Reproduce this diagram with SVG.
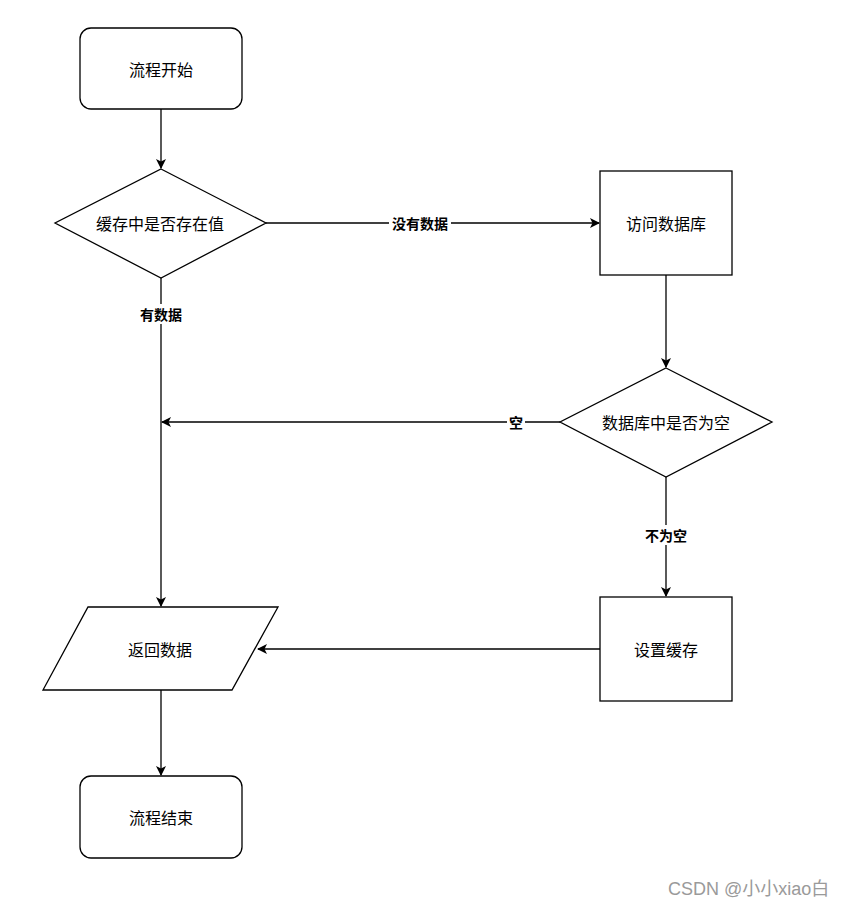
<svg xmlns="http://www.w3.org/2000/svg" width="848" height="908" viewBox="0 0 848 908">
<style>
.n{fill:#fff;stroke:#000;stroke-width:1.3}
.t{font-family:"Noto Sans CJK SC","Noto Sans",sans-serif;font-size:16px;fill:#000;text-anchor:middle;dominant-baseline:central}
.l{font-family:"Noto Sans CJK SC","Noto Sans",sans-serif;font-size:14px;font-weight:bold;fill:#000;text-anchor:middle;dominant-baseline:central}
.e{fill:none;stroke:#000;stroke-width:1.3}
.lb{fill:#fff}
.wm{font-family:"Liberation Sans","Noto Sans CJK SC",sans-serif;font-size:18px;fill:#9a9a9a}
</style>
<defs>
<marker id="a" markerWidth="10" markerHeight="10" refX="9" refY="5" orient="auto" markerUnits="userSpaceOnUse">
<path d="M0,0 L10,5 L0,10 L2.5,5 Z" fill="#000"/>
</marker>
</defs>
<rect width="848" height="908" fill="#fff"/>
<g id="edges">
<line class="e" x1="161" y1="109" x2="161" y2="168" marker-end="url(#a)"/>
<line class="e" x1="266" y1="223" x2="599" y2="223" marker-end="url(#a)"/>
<line class="e" x1="161" y1="278" x2="161" y2="606" marker-end="url(#a)"/>
<line class="e" x1="666" y1="275" x2="666" y2="367" marker-end="url(#a)"/>
<line class="e" x1="560" y1="422" x2="162" y2="422" marker-end="url(#a)"/>
<line class="e" x1="666" y1="477" x2="666" y2="596" marker-end="url(#a)"/>
<line class="e" x1="600" y1="649" x2="258" y2="649" marker-end="url(#a)"/>
<line class="e" x1="161" y1="690" x2="161" y2="775" marker-end="url(#a)"/>
<rect class="lb" x="389" y="213" width="62" height="20"/>
<text class="l" x="420" y="223">没有数据</text>
<rect class="lb" x="138" y="304" width="46" height="20"/>
<text class="l" x="161" y="314">有数据</text>
<rect class="lb" x="507" y="412" width="18" height="20"/>
<text class="l" x="516" y="422">空</text>
<rect class="lb" x="643" y="525" width="46" height="20"/>
<text class="l" x="666" y="535">不为空</text>
</g>
<g id="start">
<rect class="n" x="80" y="28" width="162" height="81" rx="11"/>
<text class="t" x="161" y="68.5">流程开始</text>
</g>
<g id="cache-check">
<polygon class="n" points="161,169 266,223 161,278 55,223"/>
<text class="t" x="160" y="223">缓存中是否存在值</text>
</g>
<g id="access-db">
<rect class="n" x="600" y="171" width="132" height="104"/>
<text class="t" x="666" y="223">访问数据库</text>
</g>
<g id="db-check">
<polygon class="n" points="666,368 772,422 666,477 560,422"/>
<text class="t" x="666" y="422">数据库中是否为空</text>
</g>
<g id="set-cache">
<rect class="n" x="600" y="597" width="132" height="104"/>
<text class="t" x="666" y="649">设置缓存</text>
</g>
<g id="return-data">
<polygon class="n" points="88,607 278,607 232,690 43,690"/>
<text class="t" x="160" y="648.5">返回数据</text>
</g>
<g id="end">
<rect class="n" x="80" y="776" width="162" height="82" rx="11"/>
<text class="t" x="161" y="817">流程结束</text>
</g>
<text class="wm" x="668" y="895">CSDN @小小xiao白</text>
</svg>
